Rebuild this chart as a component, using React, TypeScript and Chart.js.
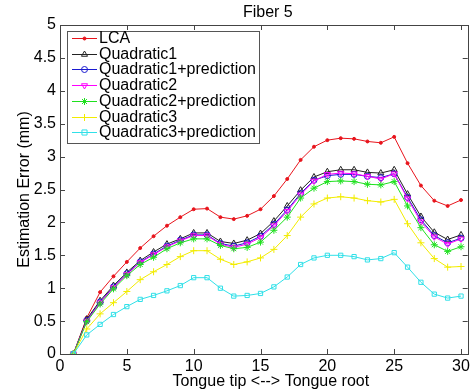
import React, { useEffect, useRef } from "react";
import { Chart, registerables } from "chart.js";
Chart.register(...registerables);

const positions = [1, 2, 3, 4, 5, 6, 7, 8, 9, 10, 11, 12, 13, 14, 15, 16, 17, 18, 19, 20, 21, 22, 23, 24, 25, 26, 27, 28, 29, 30];

const lca = [0, 0.55, 0.94, 1.18, 1.40, 1.61, 1.79, 1.95, 2.08, 2.20, 2.21, 2.08, 2.05, 2.10, 2.20, 2.40, 2.66, 2.95, 3.15, 3.25, 3.28, 3.27, 3.23, 3.21, 3.30, 2.90, 2.56, 2.33, 2.25, 2.34];
const quad1 = [0, 0.53, 0.81, 1.04, 1.24, 1.42, 1.55, 1.67, 1.75, 1.84, 1.84, 1.71, 1.68, 1.73, 1.83, 2.02, 2.25, 2.49, 2.69, 2.77, 2.80, 2.80, 2.76, 2.75, 2.80, 2.43, 2.09, 1.85, 1.74, 1.81];
const quad1Pred = [0, 0.51, 0.79, 1.02, 1.22, 1.40, 1.52, 1.64, 1.73, 1.81, 1.81, 1.68, 1.64, 1.69, 1.79, 1.97, 2.19, 2.44, 2.64, 2.71, 2.73, 2.73, 2.70, 2.68, 2.74, 2.38, 2.04, 1.80, 1.69, 1.76];
const quad2 = [0, 0.50, 0.78, 1.01, 1.21, 1.39, 1.51, 1.63, 1.72, 1.80, 1.80, 1.67, 1.62, 1.67, 1.77, 1.95, 2.17, 2.42, 2.63, 2.73, 2.75, 2.74, 2.70, 2.66, 2.74, 2.36, 2.01, 1.78, 1.67, 1.75];
const quad2Pred = [0, 0.49, 0.76, 0.99, 1.19, 1.36, 1.47, 1.60, 1.69, 1.75, 1.75, 1.65, 1.60, 1.62, 1.70, 1.88, 2.08, 2.37, 2.52, 2.62, 2.63, 2.62, 2.58, 2.57, 2.62, 2.25, 1.92, 1.66, 1.56, 1.63];
const quad3 = [0, 0.38, 0.61, 0.78, 0.95, 1.13, 1.25, 1.36, 1.48, 1.57, 1.57, 1.44, 1.36, 1.40, 1.46, 1.59, 1.80, 2.08, 2.28, 2.37, 2.39, 2.37, 2.33, 2.31, 2.35, 1.98, 1.69, 1.45, 1.32, 1.33];
const quad3Pred = [0, 0.29, 0.45, 0.60, 0.72, 0.83, 0.89, 0.96, 1.04, 1.16, 1.16, 1.00, 0.88, 0.89, 0.92, 1.02, 1.17, 1.36, 1.46, 1.50, 1.50, 1.48, 1.43, 1.45, 1.54, 1.32, 1.09, 0.91, 0.85, 0.88];

const seriesNames = ["LCA", "Quadratic1", "Quadratic1+prediction", "Quadratic2", "Quadratic2+prediction", "Quadratic3", "Quadratic3+prediction"];
const seriesValues = [lca, quad1, quad1Pred, quad2, quad2Pred, quad3, quad3Pred];
const seriesColors = ["#e8141c", "#222222", "#1a1ad0", "#ff00ff", "#1ee01e", "#f2ec00", "#30e0e8"];
const seriesMarkers = ["circle", "triangle", "circle", "triangle", "star", "cross", "rect"];
const seriesMarkerRot = [0, 0, 0, 180, 0, 0, 0];
const seriesMarkerSize = [1.5, 3.5, 3, 3.5, 3.5, 3.5, 3];
const seriesMarkerFill = [true, false, false, false, true, true, false];

const xTicks = [0, 5, 10, 15, 20, 25, 30];
const yTicks = [0, 0.5, 1, 1.5, 2, 2.5, 3, 3.5, 4, 4.5, 5];
const titleText = "Fiber 5";
const xLabel = "Tongue tip <--> Tongue root";
const yLabel = "Estimation Error (mm)";

const FONT = "'Liberation Sans', Arial, Helvetica, sans-serif";

function drawMarker(ctx: CanvasRenderingContext2D, style: string, x: number, y: number, r: number, rot: number, color: string, fill: boolean) {
  ctx.save();
  ctx.translate(x, y);
  ctx.rotate((rot * Math.PI) / 180);
  ctx.strokeStyle = color;
  ctx.fillStyle = color;
  ctx.lineWidth = 1;
  ctx.beginPath();
  if (style === "circle") {
    ctx.arc(0, 0, r, 0, Math.PI * 2);
    if (fill) ctx.fill();
    ctx.stroke();
  } else if (style === "triangle") {
    ctx.moveTo(0, -r);
    ctx.lineTo(r * 0.866, r * 0.5);
    ctx.lineTo(-r * 0.866, r * 0.5);
    ctx.closePath();
    ctx.stroke();
  } else if (style === "star") {
    const d = r * 0.707;
    ctx.moveTo(-r, 0); ctx.lineTo(r, 0);
    ctx.moveTo(0, -r); ctx.lineTo(0, r);
    ctx.moveTo(-d, -d); ctx.lineTo(d, d);
    ctx.moveTo(-d, d); ctx.lineTo(d, -d);
    ctx.stroke();
  } else if (style === "cross") {
    ctx.moveTo(-r, 0); ctx.lineTo(r, 0);
    ctx.moveTo(0, -r); ctx.lineTo(0, r);
    ctx.stroke();
  } else if (style === "rect") {
    const s = r * 0.85;
    ctx.rect(-s, -s, 2 * s, 2 * s);
    ctx.stroke();
  }
  ctx.restore();
}

const framePlugin = {
  id: "frame",
  afterDraw(chart: any) {
    const ctx = chart.ctx;
    const { left, right, top, bottom } = chart.chartArea;
    const xs = chart.scales.x;
    const ys = chart.scales.y;
    ctx.save();
    ctx.strokeStyle = "#444";
    ctx.lineWidth = 1;
    ctx.strokeRect(Math.round(left) + 0.5, Math.round(top) + 0.5, Math.round(right - left), Math.round(bottom - top));
    ctx.beginPath();
    xTicks.forEach((v) => {
      const p = Math.round(xs.getPixelForValue(v)) + 0.5;
      ctx.moveTo(p, bottom);
      ctx.lineTo(p, bottom - 5);
      ctx.moveTo(p, top);
      ctx.lineTo(p, top + 5);
    });
    yTicks.forEach((v) => {
      const p = Math.round(ys.getPixelForValue(v)) + 0.5;
      ctx.moveTo(left, p);
      ctx.lineTo(left + 5, p);
      ctx.moveTo(right, p);
      ctx.lineTo(right - 5, p);
    });
    ctx.stroke();

    ctx.fillStyle = "#000";
    ctx.font = `16px ${FONT}`;
    ctx.textAlign = "center";
    ctx.textBaseline = "middle";
    ctx.fillText(titleText, (left + right) / 2 + 4, 13);
    ctx.fillText(xLabel, (left + right) / 2 + 7, 382);
    ctx.save();
    ctx.translate(25, (top + bottom) / 2);
    ctx.rotate(-Math.PI / 2);
    ctx.fillText(yLabel, 0, 0);
    ctx.restore();

    const lx = 67, ly = 31, lw = 192, lh = 112;
    ctx.fillStyle = "#fff";
    ctx.fillRect(lx, ly, lw, lh);
    ctx.strokeStyle = "#555";
    ctx.strokeRect(lx + 0.5, ly + 0.5, lw, lh);
    ctx.textAlign = "left";
    ctx.font = `16px ${FONT}`;
    seriesNames.forEach((name, i) => {
      const yy = Math.round(38 + i * 15.7) + 0.5;
      ctx.strokeStyle = seriesColors[i];
      ctx.lineWidth = 1;
      ctx.beginPath();
      ctx.moveTo(72, yy);
      ctx.lineTo(97, yy);
      ctx.stroke();
      drawMarker(ctx, seriesMarkers[i], 84.5, yy, seriesMarkerSize[i], seriesMarkerRot[i], seriesColors[i], seriesMarkerFill[i]);
      ctx.fillStyle = "#000";
      ctx.fillText(name, 99, yy + 0.5);
    });
    ctx.restore();
  },
};

export default function App() {
  const ref = useRef<HTMLCanvasElement | null>(null);
  useEffect(() => {
    if (!ref.current) return;
    Chart.defaults.font.family = FONT;
    const datasets = seriesNames.map((name, i) => ({
      label: name,
      data: positions.map((p, j) => ({ x: p, y: seriesValues[i][j] })),
      borderColor: seriesColors[i],
      backgroundColor: seriesMarkerFill[i] ? seriesColors[i] : "rgba(0,0,0,0)",
      pointBorderColor: seriesColors[i],
      pointStyle: seriesMarkers[i],
      pointRotation: seriesMarkerRot[i],
      pointRadius: seriesMarkerSize[i],
      pointBorderWidth: 1,
      borderWidth: 1,
      tension: 0,
      order: 7 - i,
    }));
    const fmt = (v: any) => String(Number(v));
    const chart = new Chart(ref.current, {
      type: "line",
      data: { datasets } as any,
      options: {
        animation: false,
        responsive: false,
        devicePixelRatio: 1,
        layout: { padding: { top: 25, right: 1.5, left: 0, bottom: 0 } },
        plugins: { legend: { display: false }, title: { display: false }, tooltip: { enabled: false } },
        scales: {
          x: {
            type: "linear",
            min: 0,
            max: 30.5,
            grid: { display: false, drawTicks: false },
            border: { display: false },
            afterBuildTicks: (s: any) => { s.ticks = xTicks.map((v) => ({ value: v })); },
            afterFit: (s: any) => { s.height = 37; },
            ticks: { color: "#000", font: { size: 16 }, padding: 3, maxRotation: 0, autoSkip: false, callback: fmt },
          },
          y: {
            type: "linear",
            min: 0,
            max: 5,
            grid: { display: false, drawTicks: false },
            border: { display: false },
            afterBuildTicks: (s: any) => { s.ticks = yTicks.map((v) => ({ value: v })); },
            afterFit: (s: any) => { s.width = 60; },
            ticks: { color: "#000", font: { size: 16 }, padding: 4, autoSkip: false, callback: fmt },
          },
        },
      } as any,
      plugins: [framePlugin],
    });
    return () => chart.destroy();
  }, []);
  return (
    <div style={{ position: "absolute", left: 0, top: 0, width: 473, height: 391, background: "#fff" }}>
      <canvas ref={ref} width={473} height={391} />
    </div>
  );
}
